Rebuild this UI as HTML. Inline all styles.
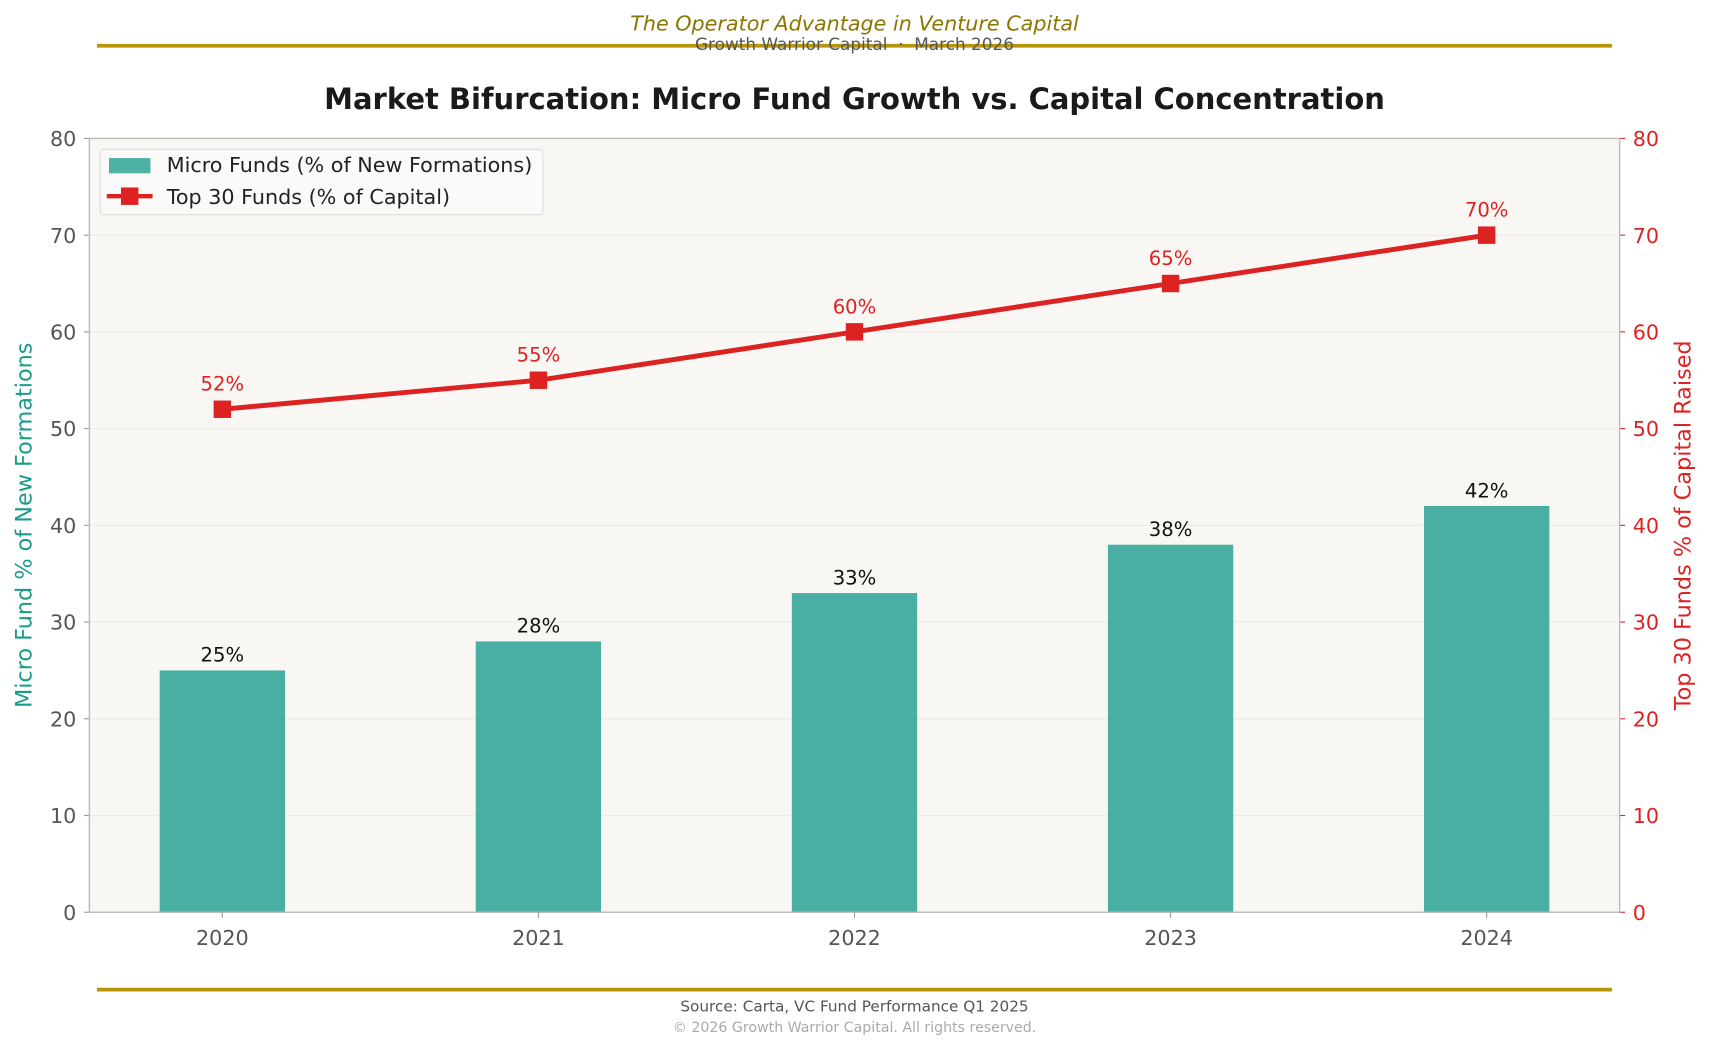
<!DOCTYPE html>
<html><head><meta charset="utf-8"><style>
html,body{margin:0;padding:0;background:#fff}
svg{display:block;font-family:"DejaVu Sans","Liberation Sans",sans-serif}
</style></head><body>
<svg id="chart" width="1709" height="1051" viewBox="0 0 1568 964.3" preserveAspectRatio="none" xmlns="http://www.w3.org/2000/svg">
<text x="784" y="28" text-anchor="middle" font-size="19" font-style="italic" fill="#8a7600">The Operator Advantage in Venture Capital</text>
<line x1="89" y1="42" x2="1479" y2="42" stroke="#b8960c" stroke-width="3.5"/>
<text x="784" y="46" text-anchor="middle" font-size="15.5" fill="#555" xml:space="preserve">Growth Warrior Capital  ·  March 2026</text>
<text x="784" y="100" text-anchor="middle" font-size="26.6" font-weight="bold" fill="#1a1a1a">Market Bifurcation: Micro Fund Growth vs. Capital Concentration</text>
<rect x="82" y="127" width="1404" height="710" fill="#f8f7f4"/>
<g id="grid"></g>
<g id="bars"></g>
<g id="line"></g>
<g id="axes"></g>
<text transform="translate(29,482) rotate(-90)" text-anchor="middle" font-size="20.5" fill="#1a9a8a">Micro Fund % of New Formations</text>
<text transform="translate(1551,482) rotate(-90)" text-anchor="middle" font-size="20.5" fill="#dd2222">Top 30 Funds % of Capital Raised</text>
<g>
<rect x="92" y="137" width="406" height="60" rx="3" fill="#fbfaf8" stroke="#ddd"/>
<rect x="100" y="145" width="38" height="14" fill="#3aa89a" opacity="0.9"/>
<text x="153" y="158" font-size="19" fill="#222">Micro Funds (% of New Formations)</text>
<line x1="98" y1="180" x2="140" y2="180" stroke="#dd2222" stroke-width="4"/>
<rect x="111" y="172" width="16" height="16" fill="#dd2222"/>
<text x="153" y="187" font-size="19" fill="#222">Top 30 Funds (% of Capital)</text>
</g>
<line x1="89" y1="908" x2="1479" y2="908" stroke="#b8960c" stroke-width="3.5"/>
<text x="784" y="928" text-anchor="middle" font-size="14" fill="#555">Source: Carta, VC Fund Performance Q1 2025</text>
<text x="784" y="947" text-anchor="middle" font-size="13" fill="#aaa">© 2026 Growth Warrior Capital. All rights reserved.</text>
</svg>
<script>
const categories = ["2020","2021","2022","2023","2024"];
const microValues = [25,28,33,38,42];
const top30Values = [52,55,60,65,70];
const yTicks = [0,10,20,30,40,50,60,70,80];

const NS="http://www.w3.org/2000/svg";
const L=82,R=1486,T=127,B=837,yMax=80;
const x=i=>204+i*290;
const y=v=>B-(v/yMax)*(B-T);
function mk(tag,attrs,parent,txt){const e=document.createElementNS(NS,tag);for(const k in attrs)e.setAttribute(k,attrs[k]);if(txt!==undefined)e.textContent=txt;parent.appendChild(e);return e;}
const grid=document.getElementById('grid'),bars=document.getElementById('bars'),line=document.getElementById('line'),axes=document.getElementById('axes');
yTicks.forEach(t=>{
  if(t>0&&t<yMax){const g=mk('line',{x1:L,x2:R,y1:y(t),y2:y(t),stroke:'#ecebe6','stroke-width':1},grid);
  
  }
  const a=mk('text',{x:L-12,y:y(t)+7,'text-anchor':'end','font-size':19,fill:'#555'},axes,t);
  
  
  mk('line',{x1:L-5,x2:L,y1:y(t),y2:y(t),stroke:'#999'},axes);
  const b=mk('text',{x:R+12,y:y(t)+7,'text-anchor':'start','font-size':19,fill:'#dd2222'},axes,t);
  
  
  mk('line',{x1:R,x2:R+5,y1:y(t),y2:y(t),stroke:'#dd2222'},axes);
});
mk('rect',{x:L,y:T,width:R-L,height:B-T,fill:'none',stroke:'#bbb','stroke-width':1.3},axes);
categories.forEach((c,i)=>{
  const r=mk('rect',{x:x(i)-57.5,y:y(microValues[i]),width:115,height:B-y(microValues[i]),fill:'#3aa89a',opacity:0.92},bars);
  
  
  const l=mk('text',{x:x(i),y:y(microValues[i])-8,'text-anchor':'middle','font-size':18,fill:'#111'},bars,microValues[i]+'%');
  
  
  mk('line',{x1:x(i),x2:x(i),y1:B,y2:B+5,stroke:'#999'},axes);
  const t=mk('text',{x:x(i),y:B+30,'text-anchor':'middle','font-size':19,fill:'#555'},axes,c);
  
  
});
const pl=mk('polyline',{points:top30Values.map((v,i)=>x(i)+','+y(v)).join(' '),fill:'none',stroke:'#dd2222','stroke-width':4.5},line);


top30Values.forEach((v,i)=>{
  const m=mk('rect',{x:x(i)-8,y:y(v)-8,width:16,height:16,fill:'#dd2222'},line);
  
  
  const l=mk('text',{x:x(i),y:y(v)-17,'text-anchor':'middle','font-size':18,fill:'#dd2222'},line,v+'%');
  
  
});
</script>
</body></html>
